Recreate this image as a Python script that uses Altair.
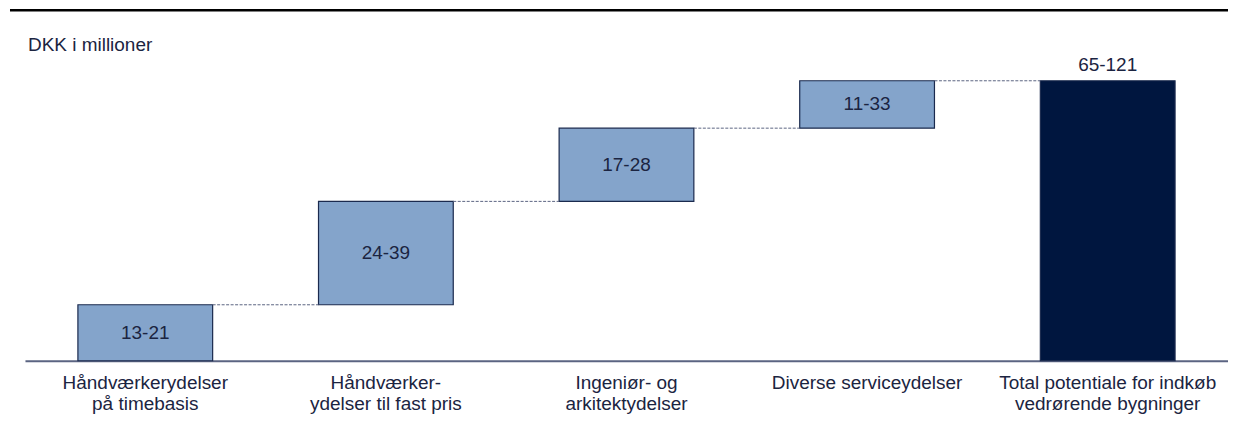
import altair as alt
import pandas as pd

categories = [
    "Håndværkerydelser\npå timebasis",
    "Håndværker-\nydelser til fast pris",
    "Ingeniør- og\narkitektydelser",
    "Diverse serviceydelser",
    "Total potentiale for indkøb\nvedrørende bygninger",
]
low_values = [13, 24, 17, 11]
range_labels = ["13-21", "24-39", "17-28", "11-33"]
total_value = 65
total_label = "65-121"
unit_label = "DKK i millioner"

# waterfall table
rows = []
cum = 0
for cat, v, lab in zip(categories[:4], low_values, range_labels):
    rows.append({"cat": cat, "start": cum, "end": cum + v, "label": lab, "kind": "step"})
    cum += v
rows.append({"cat": categories[4], "start": 0, "end": total_value, "label": total_label, "kind": "total"})
df = pd.DataFrame(rows)
df["mid"] = (df["start"] + df["end"]) / 2

conn = pd.DataFrame({
    "cat": categories[:4],
    "next": categories[1:],
    "level": df["end"][:4].tolist(),
})

W = 1205
H = 351
PAD_INNER = 0.44
half_bar = (W / 5) * (1 - PAD_INNER) / 2
YMAX = 81.35

FONT = "Liberation Sans"
TXT = "#1b2441"

xscale = alt.Scale(domain=categories, paddingInner=PAD_INNER, paddingOuter=PAD_INNER / 2)
yscale = alt.Scale(domain=[0, YMAX], nice=False, zero=True)

x_enc = alt.X(
    "cat:N",
    scale=xscale,
    title=None,
    axis=alt.Axis(
        labelAngle=0,
        labelExpr="split(datum.label, '\\n')",
        labelFont=FONT,
        labelFontSize=19,
        labelColor=TXT,
        labelLineHeight=21,
        labelPadding=13,
        labelBaseline="top",
        ticks=False,
        domainColor="#5b6482",
        domainWidth=2,
        labelLimit=400,
    ),
)

bars = alt.Chart(df).mark_bar(strokeWidth=1.2, stroke="#1b2a4e").encode(
    x=x_enc,
    y=alt.Y("start:Q", scale=yscale, axis=None),
    y2="end:Q",
    color=alt.Color(
        "kind:N",
        scale=alt.Scale(domain=["step", "total"], range=["#84a4cb", "#00163f"]),
        legend=None,
    ),
)

step_text = alt.Chart(df[df["kind"] == "step"]).mark_text(
    font=FONT, fontSize=19, color=TXT, baseline="middle"
).encode(
    x=alt.X("cat:N"),
    y=alt.Y("mid:Q"),
    text="label:N",
)

total_text = alt.Chart(df[df["kind"] == "total"]).mark_text(
    font=FONT, fontSize=19, color=TXT, baseline="bottom", dy=-6
).encode(
    x=alt.X("cat:N"),
    y=alt.Y("end:Q"),
    text="label:N",
)

connectors = alt.Chart(conn).mark_rule(
    color="#5b6482", strokeWidth=1, strokeDash=[3, 1.5], xOffset=half_bar, x2Offset=-half_bar
).encode(
    x=alt.X("cat:N"),
    x2="next:N",
    y=alt.Y("level:Q"),
)

top_line = alt.Chart(pd.DataFrame({"a": [0]})).mark_rule(color="#000000", strokeWidth=2.5).encode(
    x=alt.value(-15), x2=alt.value(W + 20), y=alt.value(0)
)

unit_text = alt.Chart(pd.DataFrame({"t": [unit_label]})).mark_text(
    font=FONT, fontSize=19, color=TXT, align="left", baseline="middle"
).encode(
    x=alt.value(3), y=alt.value(35), text="t:N"
)

chart = alt.layer(bars, connectors, step_text, total_text, top_line, unit_text).properties(
    width=W,
    height=H,
    autosize="none",
    padding={"left": 17, "top": 2, "right": 0, "bottom": 70},
).configure_view(stroke=None)

chart.save("out.html", embed_options={"renderer": "svg", "actions": False})
